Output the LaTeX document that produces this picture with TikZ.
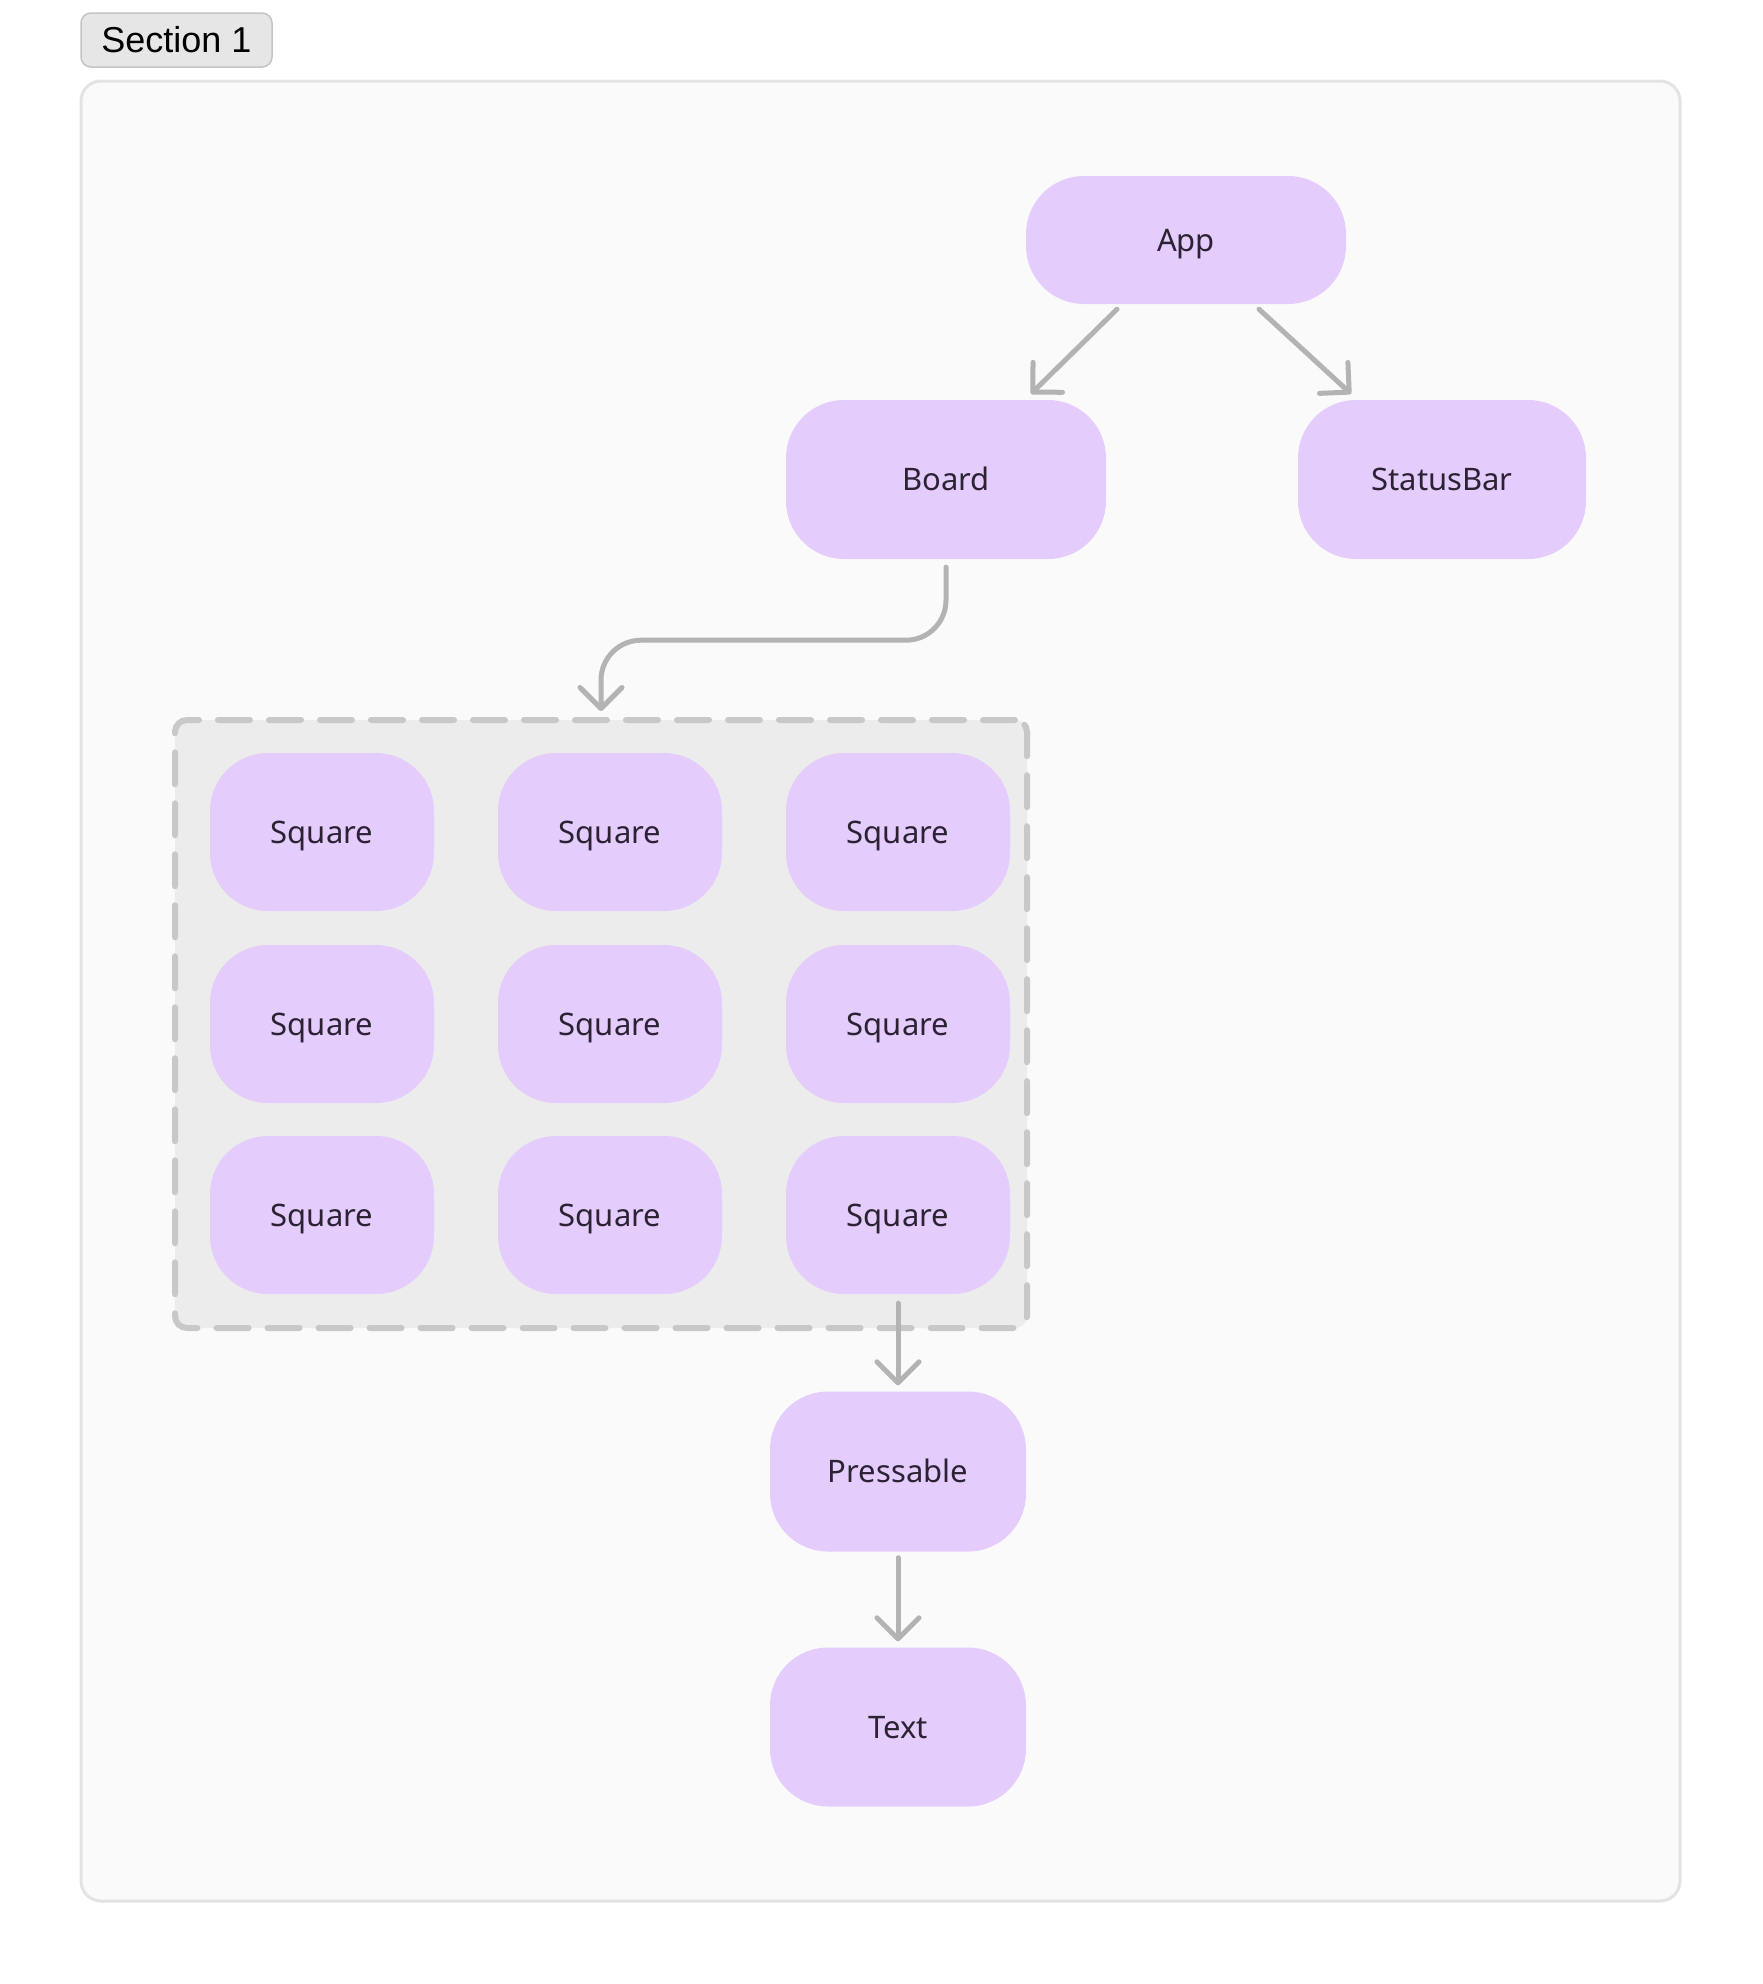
\documentclass[tikz,border=0pt]{standalone}
\usepackage{fontspec}
\setmainfont{Noto Sans}
\newfontfamily\secfont{Liberation Sans}
\usetikzlibrary{arrows.meta}
\definecolor{nodefill}{HTML}{E4CCFC}
\definecolor{nodetext}{HTML}{2B2233}
\definecolor{arrowgray}{HTML}{B3B3B3}
\definecolor{dashgray}{HTML}{C8C8C8}
\definecolor{grpfill}{HTML}{ECECEC}
\definecolor{framefill}{HTML}{FAFAFA}
\definecolor{frameline}{HTML}{E3E3E3}
\definecolor{secfill}{HTML}{E6E6E6}
\definecolor{secline}{HTML}{C4C4C4}
\begin{document}
\begin{tikzpicture}[x=1pt,y=-1pt,
  comp/.style={rectangle, rounded corners=58pt, fill=nodefill, text=nodetext,
    font=\fontsize{31pt}{37pt}\selectfont, inner sep=0pt, text height=22pt, text depth=0pt},
  sq/.style={comp, minimum width=224pt, minimum height=158pt},
  conn/.style={draw=arrowgray, line width=5pt, line cap=round, line join=round,
    -{Straight Barb[length=21pt,width=42pt,round]}},
  grpbox/.style={rectangle, rounded corners=12pt, fill=grpfill, draw=dashgray,
    line width=6pt, line cap=round, dash pattern=on 32pt off 19pt, inner sep=0pt},
  frame/.style={rectangle, rounded corners=20pt, fill=framefill, draw=frameline,
    line width=3pt, inner sep=0pt},
  secbox/.style={rectangle, rounded corners=10pt, fill=secfill, draw=secline,
    line width=1.5pt, inner sep=0pt, text height=25pt, text depth=0pt,
    font=\secfont\fontsize{36pt}{40pt}\selectfont}
]
\useasboundingbox[fill=white] (0,0) rectangle (1762,1984);

\node[frame, minimum width=1599pt, minimum height=1820pt] (frm) at (880.5,991) {};
\node[secbox, minimum width=191pt, minimum height=54pt] (sec) at (176.5,40) {Section 1};

\node[comp, minimum width=320pt, minimum height=128pt] (app) at (1186,240) {App};
\node[comp, minimum width=320pt, minimum height=159pt] (board) at (946,479.5) {Board};
\node[comp, minimum width=288pt, minimum height=159pt] (status) at (1442,479.5) {StatusBar};

\node[grpbox, minimum width=852pt, minimum height=608pt] (grp) at (601,1024) {};

\node[sq] (s11) at (322,832) {Square};
\node[sq] (s12) at (610,832) {Square};
\node[sq] (s13) at (898,832) {Square};
\node[sq] (s21) at (322,1024) {Square};
\node[sq] (s22) at (610,1024) {Square};
\node[sq] (s23) at (898,1024) {Square};
\node[sq] (s31) at (322,1215) {Square};
\node[sq] (s32) at (610,1215) {Square};
\node[sq] (s33) at (898,1215) {Square};

\node[comp, minimum width=256pt, minimum height=160pt] (press) at (898,1471.5) {Pressable};
\node[comp, minimum width=256pt, minimum height=159pt] (txt) at (898,1727) {Text};

\draw[conn] ([xshift=-69pt,yshift=-5pt]app.south) -- ([xshift=85pt,yshift=6pt]board.north);
\draw[conn] ([xshift=73pt,yshift=-5pt]app.south) -- ([xshift=-91pt,yshift=6pt]status.north);
\draw[conn, rounded corners=40pt] ([yshift=-8pt]board.south) -- ++(0,73) -| ([yshift=6pt]grp.north);
\draw[conn] ([yshift=-9pt]s33.south) -- ([yshift=6pt]press.north);
\draw[conn] ([yshift=-6pt]press.south) -- ([yshift=6pt]txt.north);
\end{tikzpicture}
\end{document}
